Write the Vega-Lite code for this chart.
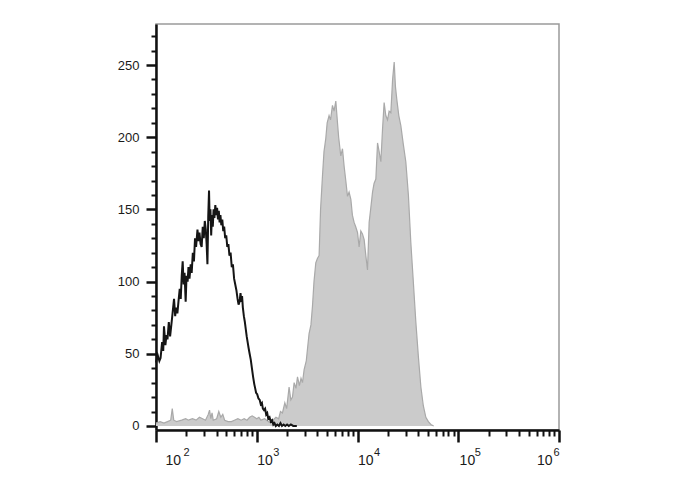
{
  "$schema": "https://vega.github.io/schema/vega-lite/v6.json",
  "autosize": {"type": "none"},
  "padding": {"left": 156, "top": 24, "right": 129, "bottom": 60},
  "width": 403,
  "height": 406,
  "background": "white",
  "config": {
    "view": {"stroke": "#9a9a9a", "strokeWidth": 1.5},
    "axis": {"labelFont": "Liberation Sans", "grid": false, "labelColor": "#1a1a1a", "title": null}
  },
  "datasets": {
    "control": [
      {"x": 100, "y": 44}, {"x": 104, "y": 49}, {"x": 108, "y": 45}, {"x": 111, "y": 47}, {"x": 115, "y": 58},
      {"x": 118, "y": 52}, {"x": 120, "y": 69}, {"x": 124, "y": 56}, {"x": 127, "y": 63}, {"x": 130, "y": 60},
      {"x": 134, "y": 72}, {"x": 138, "y": 62}, {"x": 142, "y": 70}, {"x": 146, "y": 78}, {"x": 151, "y": 88},
      {"x": 155, "y": 76}, {"x": 158, "y": 82}, {"x": 163, "y": 78}, {"x": 167, "y": 86}, {"x": 172, "y": 95},
      {"x": 176, "y": 88}, {"x": 180, "y": 104}, {"x": 184, "y": 114}, {"x": 188, "y": 98}, {"x": 192, "y": 106},
      {"x": 197, "y": 86}, {"x": 201, "y": 104}, {"x": 206, "y": 100}, {"x": 210, "y": 110}, {"x": 215, "y": 102},
      {"x": 221, "y": 112}, {"x": 226, "y": 106}, {"x": 232, "y": 120}, {"x": 238, "y": 114}, {"x": 244, "y": 130},
      {"x": 250, "y": 124}, {"x": 258, "y": 136}, {"x": 264, "y": 128}, {"x": 270, "y": 134}, {"x": 277, "y": 126},
      {"x": 284, "y": 124}, {"x": 291, "y": 138}, {"x": 298, "y": 130}, {"x": 305, "y": 142}, {"x": 312, "y": 136},
      {"x": 318, "y": 126}, {"x": 324, "y": 112}, {"x": 330, "y": 145}, {"x": 336, "y": 163}, {"x": 341, "y": 142},
      {"x": 347, "y": 150}, {"x": 353, "y": 132}, {"x": 359, "y": 146}, {"x": 366, "y": 138}, {"x": 373, "y": 150},
      {"x": 380, "y": 144}, {"x": 388, "y": 153}, {"x": 396, "y": 146}, {"x": 404, "y": 151}, {"x": 412, "y": 143},
      {"x": 420, "y": 149}, {"x": 428, "y": 141}, {"x": 436, "y": 146}, {"x": 445, "y": 139}, {"x": 455, "y": 143},
      {"x": 465, "y": 135}, {"x": 475, "y": 138}, {"x": 486, "y": 130}, {"x": 498, "y": 132}, {"x": 510, "y": 124},
      {"x": 523, "y": 126}, {"x": 536, "y": 118}, {"x": 550, "y": 120}, {"x": 565, "y": 110}, {"x": 580, "y": 112},
      {"x": 596, "y": 102}, {"x": 612, "y": 98}, {"x": 628, "y": 94}, {"x": 645, "y": 88}, {"x": 660, "y": 84},
      {"x": 675, "y": 86}, {"x": 690, "y": 92}, {"x": 703, "y": 86}, {"x": 715, "y": 90}, {"x": 728, "y": 82},
      {"x": 745, "y": 76}, {"x": 762, "y": 72}, {"x": 778, "y": 67}, {"x": 795, "y": 62}, {"x": 812, "y": 58},
      {"x": 830, "y": 54}, {"x": 850, "y": 50}, {"x": 872, "y": 46}, {"x": 895, "y": 40}, {"x": 920, "y": 34},
      {"x": 945, "y": 29}, {"x": 965, "y": 26}, {"x": 985, "y": 23}, {"x": 1010, "y": 22}, {"x": 1040, "y": 19},
      {"x": 1070, "y": 18}, {"x": 1096, "y": 15}, {"x": 1125, "y": 16}, {"x": 1150, "y": 12}, {"x": 1180, "y": 11},
      {"x": 1210, "y": 12}, {"x": 1240, "y": 8}, {"x": 1270, "y": 9}, {"x": 1300, "y": 5}, {"x": 1340, "y": 6},
      {"x": 1377, "y": 3}, {"x": 1420, "y": 4}, {"x": 1460, "y": 1}, {"x": 1500, "y": 2}, {"x": 1545, "y": 0},
      {"x": 1600, "y": 1}, {"x": 1660, "y": 0}, {"x": 1720, "y": 2}, {"x": 1780, "y": 0}, {"x": 1850, "y": 1},
      {"x": 1920, "y": 0}, {"x": 2000, "y": 1}, {"x": 2080, "y": 0}, {"x": 2180, "y": 1}, {"x": 2300, "y": 0},
      {"x": 2500, "y": 0}
    ],
    "stained": [
      {"x": 100, "y": 2}, {"x": 110, "y": 3}, {"x": 120, "y": 2}, {"x": 130, "y": 3}, {"x": 140, "y": 4},
      {"x": 145, "y": 12}, {"x": 150, "y": 4}, {"x": 160, "y": 3}, {"x": 180, "y": 4}, {"x": 197, "y": 5},
      {"x": 210, "y": 4}, {"x": 230, "y": 5}, {"x": 250, "y": 4}, {"x": 270, "y": 6}, {"x": 290, "y": 5},
      {"x": 310, "y": 4}, {"x": 330, "y": 8}, {"x": 340, "y": 11}, {"x": 350, "y": 5}, {"x": 360, "y": 9},
      {"x": 370, "y": 4}, {"x": 400, "y": 5}, {"x": 420, "y": 10}, {"x": 440, "y": 6}, {"x": 460, "y": 8},
      {"x": 480, "y": 4}, {"x": 520, "y": 3}, {"x": 560, "y": 3}, {"x": 600, "y": 4}, {"x": 650, "y": 5},
      {"x": 700, "y": 4}, {"x": 750, "y": 5}, {"x": 800, "y": 4}, {"x": 850, "y": 6}, {"x": 900, "y": 7},
      {"x": 950, "y": 6}, {"x": 1000, "y": 5}, {"x": 1050, "y": 6}, {"x": 1100, "y": 4}, {"x": 1200, "y": 5},
      {"x": 1300, "y": 3}, {"x": 1377, "y": 2}, {"x": 1450, "y": 4}, {"x": 1550, "y": 6}, {"x": 1650, "y": 5},
      {"x": 1720, "y": 10}, {"x": 1799, "y": 9}, {"x": 1900, "y": 16}, {"x": 1980, "y": 12}, {"x": 2094, "y": 27},
      {"x": 2180, "y": 18}, {"x": 2263, "y": 20}, {"x": 2350, "y": 30}, {"x": 2450, "y": 26}, {"x": 2538, "y": 34},
      {"x": 2650, "y": 28}, {"x": 2750, "y": 33}, {"x": 2845, "y": 30}, {"x": 2953, "y": 39}, {"x": 3100, "y": 45},
      {"x": 3306, "y": 64}, {"x": 3450, "y": 70}, {"x": 3574, "y": 83}, {"x": 3700, "y": 100}, {"x": 3855, "y": 113},
      {"x": 4000, "y": 116}, {"x": 4158, "y": 118}, {"x": 4300, "y": 150}, {"x": 4489, "y": 173}, {"x": 4650, "y": 190},
      {"x": 4842, "y": 199}, {"x": 5000, "y": 210}, {"x": 5222, "y": 215}, {"x": 5400, "y": 212}, {"x": 5644, "y": 222},
      {"x": 5850, "y": 218}, {"x": 6092, "y": 225}, {"x": 6330, "y": 210}, {"x": 6500, "y": 200}, {"x": 6827, "y": 187},
      {"x": 7096, "y": 192}, {"x": 7362, "y": 180}, {"x": 7650, "y": 170}, {"x": 7955, "y": 159}, {"x": 8250, "y": 162},
      {"x": 8590, "y": 157}, {"x": 8900, "y": 146}, {"x": 9253, "y": 141}, {"x": 9600, "y": 138}, {"x": 10000, "y": 134},
      {"x": 10380, "y": 124}, {"x": 10790, "y": 135}, {"x": 11200, "y": 133}, {"x": 11640, "y": 129}, {"x": 12100, "y": 118},
      {"x": 12570, "y": 108}, {"x": 13050, "y": 141}, {"x": 13500, "y": 150}, {"x": 14100, "y": 162}, {"x": 14600, "y": 168},
      {"x": 15210, "y": 171}, {"x": 15810, "y": 196}, {"x": 16400, "y": 190}, {"x": 17060, "y": 183}, {"x": 17700, "y": 205},
      {"x": 18380, "y": 224}, {"x": 19100, "y": 215}, {"x": 19860, "y": 212}, {"x": 20600, "y": 218}, {"x": 21430, "y": 217},
      {"x": 22300, "y": 240}, {"x": 23130, "y": 252}, {"x": 23800, "y": 235}, {"x": 24570, "y": 226}, {"x": 25700, "y": 215},
      {"x": 26920, "y": 208}, {"x": 28500, "y": 195}, {"x": 30170, "y": 183}, {"x": 32000, "y": 160}, {"x": 33830, "y": 127},
      {"x": 35800, "y": 100}, {"x": 37940, "y": 72}, {"x": 40200, "y": 48}, {"x": 42570, "y": 27}, {"x": 45000, "y": 14},
      {"x": 47690, "y": 6}, {"x": 50500, "y": 3}, {"x": 53510, "y": 1}, {"x": 57000, "y": 0}
    ],
    "exponents": [
      {"x": 185, "e": "2"}, {"x": 1442, "e": "3"}, {"x": 14420, "e": "4"}, {"x": 144200, "e": "5"}, {"x": 872000, "e": "6"}
    ]
  },
  "resolve": {"axis": {"x": "independent", "y": "independent"}},
  "layer": [
    {
      "data": {"name": "stained"},
      "mark": {"type": "area", "color": "#cbcbcb", "opacity": 1, "interpolate": "linear"},
      "encoding": {
        "x": {
          "field": "x", "type": "quantitative",
          "scale": {"type": "log", "domain": [100, 1000000]},
          "axis": {
            "orient": "bottom",
            "values": [100, 200, 300, 400, 500, 600, 700, 800, 900, 1000, 2000, 3000, 4000, 5000, 6000, 7000, 8000, 9000, 10000, 20000, 30000, 40000, 50000, 60000, 70000, 80000, 90000, 100000, 200000, 300000, 400000, 500000, 600000, 700000, 800000, 900000, 1000000],
            "labels": false,
            "tickSize": {"condition": {"test": "datum.value == 100 || datum.value == 1000 || datum.value == 10000 || datum.value == 100000 || datum.value == 1000000", "value": 12}, "value": 6},
            "tickWidth": {"condition": {"test": "datum.value == 100 || datum.value == 1000 || datum.value == 10000 || datum.value == 100000 || datum.value == 1000000", "value": 2.5}, "value": 2},
            "tickColor": "#111",
            "domainColor": "#111", "domainWidth": 2.5
          }
        },
        "y": {
          "field": "y", "type": "quantitative",
          "scale": {"domain": [-2.8, 278.4], "nice": false, "zero": false},
          "axis": {
            "orient": "left",
            "values": [0, 50, 100, 150, 200, 250],
            "labelFontSize": 13,
            "labelPadding": 7,
            "tickSize": 10, "tickWidth": 2.5, "tickColor": "#111",
            "domainColor": "#111", "domainWidth": 2.5
          }
        },
        "y2": {"datum": 0}
      }
    },
    {
      "data": {"name": "stained"},
      "mark": {"type": "line", "color": "#a9a9a9", "strokeWidth": 1.2, "interpolate": "linear"},
      "encoding": {
        "x": {
          "field": "x", "type": "quantitative",
          "axis": {
            "orient": "bottom",
            "values": [122.8, 1000, 10000, 102000, 852000],
            "labelExpr": "'10'",
            "labelFontSize": 14,
            "labelFlush": false,
            "labelAlign": {"condition": {"test": "datum.value >= 800000", "value": "right"}, "value": "left"},
            "labelPadding": 23,
            "ticks": false,
            "domain": false
          }
        },
        "y": {
          "field": "y", "type": "quantitative",
          "axis": {
            "orient": "left",
            "values": [10, 20, 30, 40, 60, 70, 80, 90, 110, 120, 130, 140, 160, 170, 180, 190, 210, 220, 230, 240, 260, 270],
            "labels": false,
            "domain": false,
            "tickSize": 5, "tickWidth": 2, "tickColor": "#111"
          }
        }
      }
    },
    {
      "data": {"name": "exponents"},
      "mark": {"type": "point", "opacity": 0},
      "encoding": {
        "x": {
          "field": "x", "type": "quantitative",
          "axis": {
            "orient": "bottom",
            "values": [185, 1442, 14420, 144200, 872000],
            "labelExpr": "datum.value < 1000 ? '2' : datum.value < 10000 ? '3' : datum.value < 100000 ? '4' : datum.value < 500000 ? '5' : '6'",
            "labelFontSize": 11,
            "labelFlush": false,
            "labelAlign": "left",
            "labelPadding": 16,
            "ticks": false,
            "domain": false
          }
        },
        "y": {"datum": 0, "type": "quantitative", "axis": null}
      }
    },
    {
      "data": {"name": "control"},
      "mark": {"type": "line", "color": "#151515", "strokeWidth": 2, "interpolate": "linear"},
      "encoding": {
        "x": {"field": "x", "type": "quantitative", "axis": null},
        "y": {"field": "y", "type": "quantitative", "axis": null}
      }
    }
  ]
}
